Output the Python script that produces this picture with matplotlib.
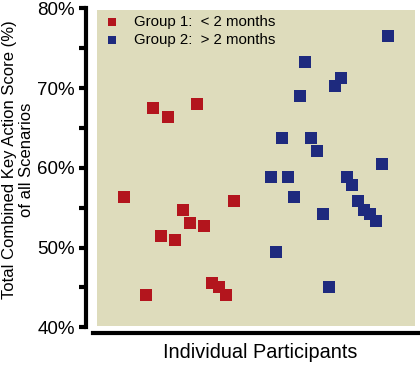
import matplotlib
matplotlib.use("Agg")
import matplotlib.pyplot as plt
from matplotlib.patches import Rectangle
from matplotlib.lines import Line2D

plt.rcParams['font.family'] = ['Liberation Sans', 'DejaVu Sans']

# Participant position (arbitrary ordering axis) and score (%)
g1_x = [8.6, 15.4, 17.7, 20.0, 22.4, 24.6, 26.9, 29.2, 31.5, 33.8, 36.1, 38.4, 40.7, 43.0]
g1_y = [56.3, 44.0, 67.5, 51.5, 66.4, 51.0, 54.7, 53.1, 68.0, 52.7, 45.6, 45.1, 44.0, 55.8]

g2_x = [54.6, 56.3, 58.2, 60.1, 61.9, 63.8, 65.5, 67.4, 69.3, 71.1, 73.0,
        74.9, 76.6, 78.5, 80.3, 82.2, 84.1, 85.9, 87.6, 89.6, 91.4]
g2_y = [58.9, 49.4, 63.7, 58.9, 56.3, 69.0, 73.3, 63.7, 62.1, 54.2, 45.1,
        70.3, 71.2, 58.9, 57.9, 55.8, 54.7, 54.2, 53.3, 60.5, 76.5]

labels = ["Group 1:  < 2 months", "Group 2:  > 2 months"]
yticks = [40, 45, 50, 55, 60, 65, 70, 75, 80]
yticklabels = ["40%", "", "50%", "", "60%", "", "70%", "", "80%"]

red = "#b3151d"
blue = "#1e2a7e"
bg = "#dedcbc"

fig = plt.figure(figsize=(4.2, 3.66), dpi=100)
ax = fig.add_axes([97/420, 38.7/366, 318/420, 319/366])
ax.set_facecolor("none")
ax.add_patch(Rectangle((0, 0.004), 1, 0.991, transform=ax.transAxes,
                       facecolor=bg, edgecolor="none", zorder=0))

ax.scatter(g1_x, g1_y, marker="s", s=72, color=red, linewidths=0, zorder=3, label=labels[0])
ax.scatter(g2_x, g2_y, marker="s", s=72, color=blue, linewidths=0, zorder=3, label=labels[1])

ax.set_xlim(0, 100)
ax.set_ylim(40, 80)
ax.set_xticks([])
ax.set_yticks(yticks)
ax.set_yticklabels(yticklabels)
ax.tick_params(axis="y", direction="out", length=5, width=3, pad=3,
               colors="black", labelsize=13.5)

for s in ["top", "right", "bottom"]:
    ax.spines[s].set_visible(False)
ax.spines["left"].set_position(("outward", 8))
ax.spines["left"].set_linewidth(3)

fig.add_artist(Line2D([93/420, 418/420], [33/366, 33/366], color="black",
                      linewidth=3, transform=fig.transFigure))

fig.text(18/420, 206/366, "Total Combined Key Action Score (%)\nof all Scenarios",
         fontsize=12.0, linespacing=1.15, rotation=90, ha="center", va="center",
         multialignment="center")
fig.text(260/420, 13/366, "Individual Participants", fontsize=14.3,
         ha="center", va="center")

leg = ax.legend(loc="upper left", bbox_to_anchor=(0.0, 1.0), frameon=False,
                fontsize=10.8, handletextpad=0.9, borderaxespad=0.05,
                labelspacing=0.25, markerscale=0.7, handlelength=1.1)

fig.savefig("out.png", dpi=100)
